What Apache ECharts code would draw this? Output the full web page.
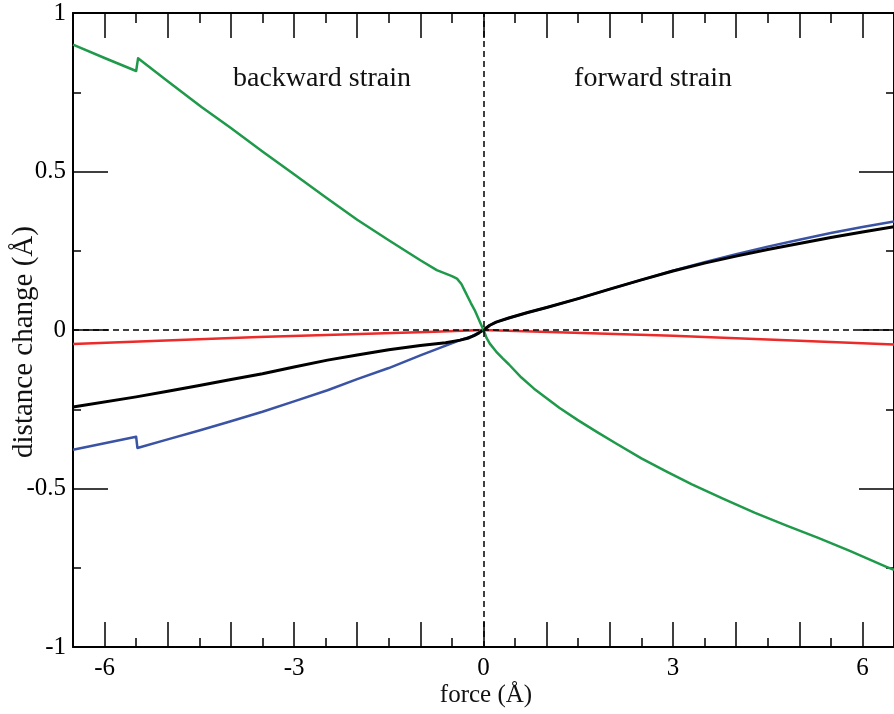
<!DOCTYPE html>
<html lang="en">
<head>
    <meta charset="UTF-8">
    <title>distance change vs force</title>
    <script src="https://cdn.jsdelivr.net/npm/echarts@6/dist/echarts.min.js"></script>
    <style>
        html, body { margin: 0; padding: 0; background: #fff; }
    </style>
</head>
<body>
<div id="main" style="width: 894px;height:714px;"></div>
<script>
    // 读图得到的数据 (x = force, y = distance change)
    var greenX = [-6.5, -6.0, -5.5, -5.47, -5.0, -4.46, -4.0, -3.5, -3.0, -2.5, -2.0, -1.5, -1.0, -0.74, -0.6, -0.5, -0.42,
        -0.35, -0.30, -0.25, -0.2, -0.14, -0.1, -0.05, 0,
        0.05, 0.1, 0.2, 0.3, 0.4, 0.6, 0.8, 1.0, 1.2, 1.5, 1.8, 2.1, 2.5, 2.9, 3.3, 3.8, 4.3, 4.8, 5.3, 5.8, 6.38, 6.5];
    var greenY = [0.900, 0.858, 0.817, 0.857, 0.785, 0.703, 0.637, 0.563, 0.491, 0.419, 0.348, 0.283, 0.220, 0.189, 0.178, 0.170, 0.162,
        0.145, 0.125, 0.105, 0.085, 0.063, 0.045, 0.022, 0,
        -0.026, -0.043, -0.068, -0.089, -0.108, -0.150, -0.185, -0.215, -0.245, -0.285, -0.322, -0.358, -0.405, -0.447, -0.487,
        -0.533, -0.577, -0.617, -0.656, -0.697, -0.747, -0.757];

    var blackX = [-6.5, -5.5, -5.0, -4.5, -4.04, -3.5, -3.0, -2.47, -2.0, -1.5, -1.0, -0.6, -0.37, -0.25, -0.15, -0.07, 0,
        0.1, 0.2, 0.4, 0.7, 1.0, 1.5, 2.0, 2.5, 3.0, 3.5, 4.0, 4.5, 5.0, 5.5, 6.0, 6.5];
    var blackY = [-0.243, -0.211, -0.193, -0.175, -0.158, -0.138, -0.117, -0.095, -0.079, -0.062, -0.049, -0.040, -0.032, -0.026, -0.018, -0.009, 0,
        0.015, 0.025, 0.038, 0.055, 0.071, 0.099, 0.129, 0.158, 0.186, 0.211, 0.233, 0.254, 0.273, 0.292, 0.309, 0.326];

    var blueX = [-6.5, -5.5, -5.48, -5.0, -4.5, -4.04, -3.5, -3.0, -2.47, -2.0, -1.5, -1.0, -0.7, -0.4, -0.19, -0.1, 0,
        0.1, 0.2, 0.4, 0.7, 1.0, 1.5, 2.0, 2.5, 3.0, 3.5, 4.0, 4.5, 5.0, 5.5, 6.0, 6.5];
    var blueY = [-0.378, -0.337, -0.372, -0.345, -0.317, -0.290, -0.258, -0.225, -0.190, -0.155, -0.120, -0.080, -0.057, -0.034, -0.020, -0.011, 0,
        0.015, 0.025, 0.038, 0.055, 0.071, 0.099, 0.129, 0.158, 0.187, 0.214, 0.239, 0.263, 0.285, 0.306, 0.325, 0.342];

    var redX = [-6.5, -3.56, -0.9, 0, 3.0, 6.5];
    var redY = [-0.044, -0.022, -0.006, 0, -0.018, -0.046];

    // 刻度
    var xMajorTicks = [-6, -5, -4, -3, -2, -1, 0, 1, 2, 3, 4, 5, 6];
    var xMinorTicks = [-6.5, -5.5, -4.5, -3.5, -2.5, -1.5, -0.5, 0.5, 1.5, 2.5, 3.5, 4.5, 5.5, 6.5];
    var xTickLabels = [-6, -3, 0, 3, 6];

    function pairs(xs, ys) {
        var out = [];
        for (var i = 0; i < xs.length; i++) {
            out.push([xs[i], ys[i]]);
        }
        return out;
    }

    var serif = '"Liberation Serif", "DejaVu Serif", serif';
    var black = '#000';

    function xAxisDef(pos, ticks, len, withLine, withLabels) {
        return {
            type: 'value', position: pos, min: -6.5, max: 6.5,
            axisLine: {show: withLine, onZero: false, lineStyle: {color: black, width: 2}},
            axisTick: {show: true, inside: true, length: len, customValues: ticks,
                lineStyle: {color: black, width: 1.5}},
            axisLabel: withLabels ? {show: true, customValues: xTickLabels, margin: 9,
                color: black, fontFamily: serif, fontSize: 25} : {show: false},
            splitLine: {show: false}
        };
    }

    function yAxisDef(pos, withLabels) {
        return {
            type: 'value', position: pos, min: -1, max: 1, interval: 0.5,
            axisLine: {show: true, onZero: false, lineStyle: {color: black, width: 2}},
            axisTick: {show: true, inside: true, length: 35, lineStyle: {color: black, width: 1.5}},
            minorTick: {show: true, splitNumber: 2, length: 8, lineStyle: {color: black, width: 1.5}},
            axisLabel: withLabels ? {show: true, margin: 7, color: black, fontFamily: serif, fontSize: 25} : {show: false},
            splitLine: {show: false}
        };
    }

    function lineSeries(name, xs, ys, color, width) {
        return {
            name: name, type: 'line', xAxisIndex: 0, yAxisIndex: 0,
            data: pairs(xs, ys), showSymbol: false, symbol: 'none',
            lineStyle: {color: color, width: width, join: 'round'}, z: 3
        };
    }

    var myChart = echarts.init(document.getElementById('main'));
    myChart.setOption({
        animation: false,
        backgroundColor: '#fff',
        grid: {left: 73, right: -7, top: 13, bottom: 67, containLabel: false},
        xAxis: [
            xAxisDef('bottom', xMajorTicks, 25, true, true),
            xAxisDef('bottom', xMinorTicks, 9, false, false),
            xAxisDef('top', xMajorTicks, 25, true, false),
            xAxisDef('top', xMinorTicks, 10, false, false)
        ],
        yAxis: [
            yAxisDef('left', true),
            yAxisDef('right', false)
        ],
        series: [
            {
                type: 'line', xAxisIndex: 0, yAxisIndex: 0, data: [], z: 1,
                markLine: {
                    silent: true, symbol: 'none', label: {show: false},
                    lineStyle: {color: black, type: [6, 4], width: 1.5},
                    data: [{xAxis: 0}, {yAxis: 0}]
                }
            },
            lineSeries('red', redX, redY, '#ec2a2a', 2.5),
            lineSeries('blue', blueX, blueY, '#3a53a4', 2.5),
            lineSeries('black', blackX, blackY, '#000000', 3),
            lineSeries('green', greenX, greenY, '#1f9a4a', 2.5)
        ],
        graphic: [
            {type: 'text', x: 322, y: 79, style: {text: 'backward strain', font: '28px ' + serif,
                fill: '#111', align: 'center', verticalAlign: 'middle'}},
            {type: 'text', x: 653, y: 79, style: {text: 'forward strain', font: '28px ' + serif,
                fill: '#111', align: 'center', verticalAlign: 'middle'}},
            {type: 'text', x: 486, y: 695, style: {text: 'force (Å)', font: '25px ' + serif,
                fill: '#111', align: 'center', verticalAlign: 'middle'}},
            {type: 'text', x: 24, y: 342, rotation: Math.PI / 2, style: {text: 'distance change (Å)',
                font: '29px ' + serif, fill: '#111', align: 'center', verticalAlign: 'middle'}}
        ]
    });
</script>
</body>
</html>
